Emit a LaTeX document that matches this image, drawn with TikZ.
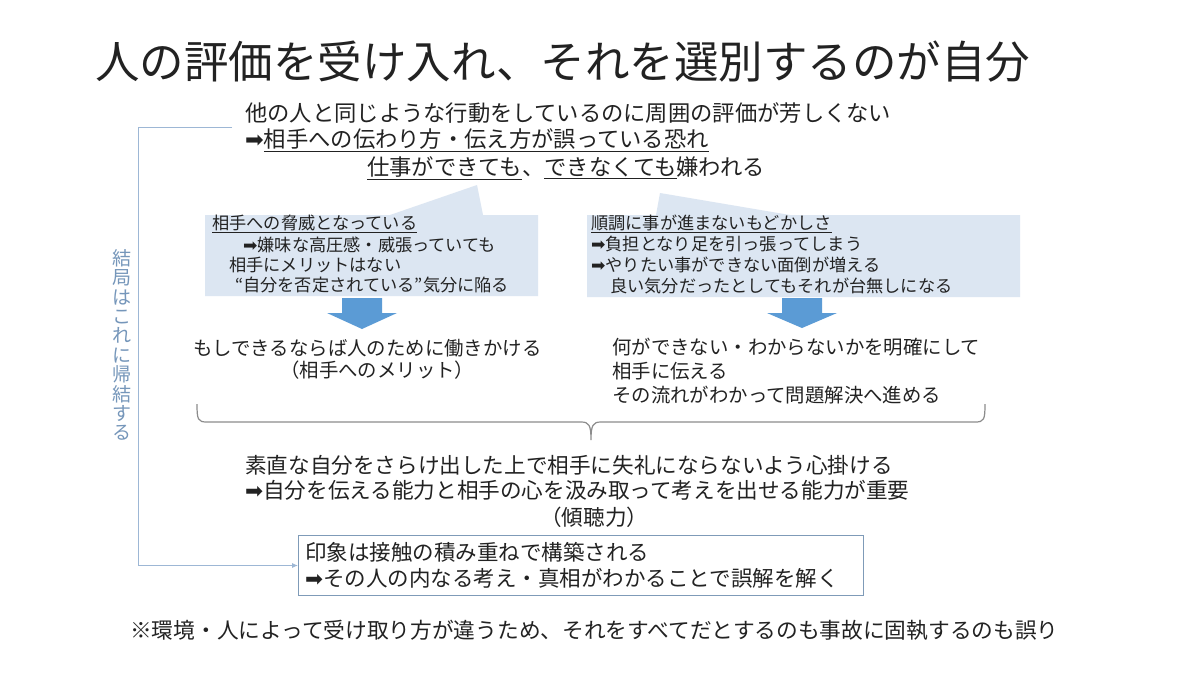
\documentclass[tikz,border=0pt]{standalone}
\usepackage{fontspec}
\setmainfont{Noto Sans CJK JP}
\newfontfamily\symf{DejaVu Sans}
\usetikzlibrary{arrows.meta}
\newcommand\myarr{{\symf ➡}}
\definecolor{txt}{HTML}{222222}
\definecolor{callfill}{HTML}{DCE6F2}
\definecolor{arrblue}{HTML}{5B9BD5}
\definecolor{connc}{HTML}{9DB7D5}
\definecolor{vtxt}{HTML}{7596BA}
\definecolor{boxc}{HTML}{7F9BB8}
\definecolor{bracec}{HTML}{8C8C8C}
\tikzset{
  txtnode/.style={anchor=west, inner sep=0pt, text=txt},
  big/.style={txtnode, font=\fontsize{22.3}{26}\selectfont},
  mid/.style={txtnode, font=\fontsize{19.4}{23}\selectfont},
  small/.style={txtnode, font=\fontsize{17.2}{20}\selectfont},
  callout/.style={fill=callfill, draw=none},
  downarrow/.style={fill=arrblue, draw=none},
  conn/.style={draw=connc, line width=0.9pt},
  bracestyle/.style={draw=bracec, line width=1.2pt},
}
\begin{document}
\begin{tikzpicture}[x=1pt,y=-1pt]
\useasboundingbox (0,0) rectangle (1200,675);
\fill[white] (0,0) rectangle (1200,675);

% title
\node[txtnode, font=\fontsize{44.5}{50}\selectfont] (title) at (95,62) {人の評価を受け入れ、それを選別するのが自分};

% top lines
\node[big] (l1) at (245,113) {他の人と同じような行動をしているのに周囲の評価が芳しくない};
\node[big] (l2) at (245,140) {\myarr\underline{相手への伝わり方・伝え方が誤っている恐れ}};
\node[big] (l3) at (367,168) {\underline{仕事ができても}、\underline{できなくても}嫌われる};

% callouts
\path[callout] (205,215) -- (390,215) -- (477,185) -- (483,215) -- (538,215) -- (538,296) -- (205,296) -- cycle;
\path[callout] (587,215) -- (656,215) -- (660,193) -- (790,215) -- (1020,215) -- (1020,297) -- (587,297) -- cycle;

\node[small] (a1) at (212,224) {\underline{相手への脅威となっている}};
\node[small] (a2) at (243,245) {\myarr 嫌味な高圧感・威張っていても};
\node[small] (a3) at (229,265) {相手にメリットはない};
\node[small] (a4) at (235,285) {“自分を否定されている”気分に陥る};

\node[small] (b1) at (591,224) {\underline{順調に事が進まないもどかしさ}};
\node[small] (b2) at (591,244) {\myarr 負担となり足を引っ張ってしまう};
\node[small] (b3) at (591,265) {\myarr やりたい事ができない面倒が増える};
\node[small] (b4) at (610,286) {良い気分だったとしてもそれが台無しになる};

% down arrows
\path[downarrow] (342,298) -- (382,298) -- (382,313) -- (397,313) -- (362,329) -- (327,313) -- (342,313) -- cycle;
\path[downarrow] (782,298) -- (822,298) -- (822,313) -- (837,313) -- (802,328) -- (767,313) -- (782,313) -- cycle;

% middle texts
\node[mid] (m1) at (193,348) {もしできるならば人のために働きかける};
\node[mid] (m2) at (280,370) {（相手へのメリット）};
\node[mid] (r1) at (612,347) {何ができない・わからないかを明確にして};
\node[mid] (r2) at (612,371) {相手に伝える};
\node[mid] (r3) at (612,395) {その流れがわかって問題解決へ進める};

% brace
\draw[bracestyle] (197,404) .. controls (197,420) and (198,422) .. (207,422) -- (581,422)
  .. controls (589,422) and (591,425) .. (591,440)
  .. controls (591,425) and (593,422) .. (601,422) -- (975,422)
  .. controls (984,422) and (985,420) .. (985,404);

% lower texts
\node[big, font=\fontsize{21.6}{26}\selectfont] (s1) at (245,465) {素直な自分をさらけ出した上で相手に失礼にならないよう心掛ける};
\node[big, font=\fontsize{21.6}{26}\selectfont] (s2) at (245,490) {\myarr 自分を伝える能力と相手の心を汲み取って考えを出せる能力が重要};
\node[big, font=\fontsize{21.6}{26}\selectfont] (s3) at (540,517) {（傾聴力）};

% bottom box
\node[draw=boxc, line width=1pt, minimum width=565pt, minimum height=60pt, anchor=north west, inner sep=0pt] (note) at (298,535) {};
\node[big, font=\fontsize{21.5}{26}\selectfont] (n1) at (305,552) {印象は接触の積み重ねで構築される};
\node[big, font=\fontsize{21.5}{26}\selectfont] (n2) at (305,578) {\myarr その人の内なる考え・真相がわかることで誤解を解く};

% connector
\coordinate (c1) at (232,127);
\coordinate (c2) at (138,127);
\draw[conn, -{Latex[length=6pt,width=5pt]}] (c1) -- (c2) |- (note.west);
\node[inner sep=0pt, align=center, text=vtxt, font=\fontsize{19}{19.4}\selectfont] (vt) at (122,345) {結\\局\\は\\こ\\れ\\に\\帰\\結\\す\\る};

% footnote
\node[big, font=\fontsize{21.7}{26}\selectfont] (fn) at (130,630) {※環境・人によって受け取り方が違うため、それをすべてだとするのも事故に固執するのも誤り};
\end{tikzpicture}
\end{document}
